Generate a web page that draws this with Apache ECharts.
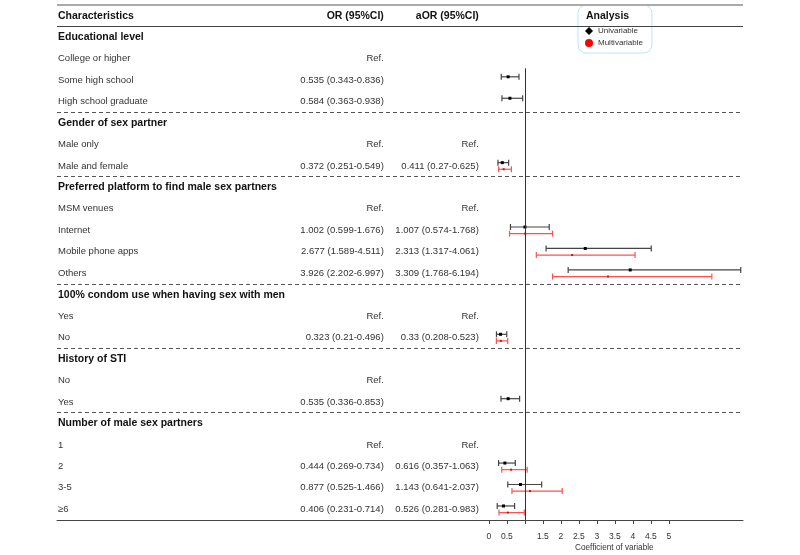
<!DOCTYPE html>
<html>
<head>
<meta charset="utf-8">
<script src="https://cdn.jsdelivr.net/npm/echarts@6/dist/echarts.min.js"></script>
<style>
  html, body { margin: 0; padding: 0; background: #fff; }
  #chart { width: 800px; height: 555px; }
</style>
</head>
<body>
<div id="chart"></div>
<script>
// rows of the table, top to bottom
var rowLabels = [
  'Educational level', 'College or higher', 'Some high school', 'High school graduate',
  'Gender of sex partner', 'Male only', 'Male and female',
  'Preferred platform to find male sex partners', 'MSM venues', 'Internet', 'Mobile phone apps', 'Others',
  '100% condom use when having sex with men', 'Yes', 'No',
  'History of STI', 'No', 'Yes',
  'Number of male sex partners', '1', '2', '3-5', '\u22656'
];
var headerRows = [0, 4, 7, 12, 15, 18];
var orRefRows = [1, 5, 8, 13, 16, 19];
var aorRefRows = [5, 8, 13, 19];
var colTitles = ['Characteristics', 'OR (95%CI)', 'aOR (95%CI)'];

// univariable OR
var orEst  = [null, null, 0.535, 0.584, null, null, 0.372, null, null, 1.002, 2.677, 3.926, null, null, 0.323, null, null, 0.535, null, null, 0.444, 0.877, 0.406];
var orLow  = [null, null, 0.343, 0.363, null, null, 0.251, null, null, 0.599, 1.589, 2.202, null, null, 0.21,  null, null, 0.336, null, null, 0.269, 0.525, 0.231];
var orHigh = [null, null, 0.836, 0.938, null, null, 0.549, null, null, 1.676, 4.511, 6.997, null, null, 0.496, null, null, 0.853, null, null, 0.734, 1.466, 0.714];

// multivariable aOR
var aorEst  = [null, null, null, null, null, null, 0.411, null, null, 1.007, 2.313, 3.309, null, null, 0.33,  null, null, null, null, null, 0.616, 1.143, 0.526];
var aorLow  = [null, null, null, null, null, null, 0.27,  null, null, 0.574, 1.317, 1.768, null, null, 0.208, null, null, null, null, null, 0.357, 0.641, 0.281];
var aorHigh = [null, null, null, null, null, null, 0.625, null, null, 1.768, 4.061, 6.194, null, null, 0.523, null, null, null, null, null, 1.063, 2.037, 0.983];

var tickValues = [0, 0.5, 1.5, 2, 2.5, 3, 3.5, 4, 4.5, 5];
var tickMarks = [0, 0.5, 1, 1.5, 2, 2.5, 3, 3.5, 4, 4.5, 5];
var separators = [3.5, 6.5, 11.5, 14.5, 17.5];

var FONT = 'Liberation Sans, Arial, sans-serif';

function fmt(e, l, h) {
  return e + ' (' + l + '-' + h + ')';
}

function ciData(est, low, high) {
  var out = [];
  for (var i = 0; i < est.length; i++) {
    if (est[i] != null) out.push([est[i], i, low[i], high[i]]);
  }
  return out;
}

function ciRender(color, barColor, dy, dot) {
  return function (params, api) {
    var row = api.value(1);
    var p = api.coord([api.value(0), row]);
    var lo = api.coord([api.value(2), row]);
    var hi = api.coord([api.value(3), row]);
    var y = p[1] + dy;
    var ls = { stroke: barColor, lineWidth: 1.2 };
    return {
      type: 'group',
      children: [
        { type: 'line', shape: { x1: lo[0], y1: y, x2: hi[0], y2: y }, style: ls },
        { type: 'line', shape: { x1: lo[0], y1: y - 3, x2: lo[0], y2: y + 3 }, style: ls },
        { type: 'line', shape: { x1: hi[0], y1: y - 3, x2: hi[0], y2: y + 3 }, style: ls },
        { type: 'rect', shape: { x: p[0] - dot / 2, y: y - dot / 2, width: dot, height: dot }, style: { fill: color } }
      ]
    };
  };
}

// text table rows (row -1 = column titles)
var textRows = [[-12, -1]];
for (var r = 0; r < rowLabels.length; r++) textRows.push([-12, r]);

function textRender(params, api) {
  var row = api.value(1);
  var y = api.coord([0, row])[1];
  var xLabel = api.coord([-12, row])[0] + 1;
  var xOr = api.coord([-2.92, row])[0];
  var xAor = api.coord([-0.28, row])[0];
  var kids = [];
  function t(text, x, align, bold, color) {
    kids.push({
      type: 'text',
      x: x, y: y,
      style: {
        text: text,
        textAlign: align,
        textVerticalAlign: 'middle',
        font: (bold ? 'bold 10.5px ' : '9.5px ') + FONT,
        fill: color
      }
    });
  }
  if (row < 0) {
    t(colTitles[0], xLabel, 'left', true, '#111');
    t(colTitles[1], xOr, 'right', true, '#111');
    t(colTitles[2], xAor, 'right', true, '#111');
    return { type: 'group', children: kids };
  }
  var isHead = headerRows.indexOf(row) >= 0;
  t(rowLabels[row], xLabel, 'left', isHead, isHead ? '#111' : '#333');
  if (orRefRows.indexOf(row) >= 0) t('Ref.', xOr, 'right', false, '#333');
  else if (orEst[row] != null) t(fmt(orEst[row], orLow[row], orHigh[row]), xOr, 'right', false, '#333');
  if (aorRefRows.indexOf(row) >= 0) t('Ref.', xAor, 'right', false, '#333');
  else if (aorEst[row] != null) t(fmt(aorEst[row], aorLow[row], aorHigh[row]), xAor, 'right', false, '#333');
  return { type: 'group', children: kids };
}

var sepLines = [
  { yAxis: -1.5, lineStyle: { color: '#aaaaaa', width: 2, type: 'solid' } },
  { yAxis: -0.5, lineStyle: { color: '#444444', width: 1, type: 'solid' } }
];
separators.forEach(function (s) {
  sepLines.push({ yAxis: s, lineStyle: { color: '#555555', width: 1, type: [4, 3] } });
});
sepLines.push([
  { coord: [1, 1.45], lineStyle: { color: '#333333', width: 1, type: 'solid' } },
  { coord: [1, 22.5] }
]);

var chart = echarts.init(document.getElementById('chart'));

var option = {
  animation: false,
  backgroundColor: '#fff',
  grid: { left: 57, right: 57, top: 5, bottom: 35 },
  xAxis: {
    type: 'value',
    min: -12,
    max: 7.06,
    axisLine: { show: true, onZero: false, lineStyle: { color: '#444', width: 1 } },
    axisTick: { show: true, customValues: tickMarks, length: 4, lineStyle: { color: '#444' } },
    axisLabel: {
      customValues: tickValues,
      formatter: function (v) { return String(v); },
      fontFamily: FONT,
      fontSize: 8.5,
      color: '#333',
      margin: 12
    },
    splitLine: { show: false }
  },
  yAxis: {
    type: 'value',
    inverse: true,
    min: -1.5,
    max: 22.5,
    show: false
  },
  legend: {
    orient: 'vertical',
    left: 578,
    top: 5,
    padding: [22, 9, 6, 7],
    itemWidth: 8,
    itemHeight: 8,
    itemGap: 4,
    backgroundColor: '#fff',
    borderColor: '#bfe3f2',
    borderWidth: 1,
    borderRadius: 8,
    textStyle: { fontFamily: FONT, fontSize: 8, color: '#333' },
    data: [
      { name: 'Univariable', icon: 'diamond', itemStyle: { color: '#000' } },
      { name: 'Multivariable', icon: 'circle', itemStyle: { color: '#ff0000' } }
    ]
  },
  graphic: [
    {
      type: 'text', left: 586, top: 11, z: 100,
      style: { text: 'Analysis', font: 'bold 10.5px ' + FONT, fill: '#111' }
    },
    {
      type: 'text', left: 575, top: 544, z: 100,
      style: { text: 'Coefficient of variable', font: '8.2px ' + FONT, fill: '#333' }
    }
  ],
  series: [
    {
      type: 'custom',
      name: 'table',
      data: textRows,
      encode: { x: 0, y: 1 },
      renderItem: textRender,
      silent: true,
      markLine: {
        silent: true,
        symbol: 'none',
        label: { show: false },
        data: sepLines
      }
    },
    {
      type: 'custom',
      name: 'Univariable',
      itemStyle: { color: '#000' },
      data: ciData(orEst, orLow, orHigh),
      encode: { x: [0, 2, 3], y: 1 },
      renderItem: ciRender('#000', '#444', -3.3, 3)
    },
    {
      type: 'custom',
      name: 'Multivariable',
      itemStyle: { color: '#ff0000' },
      data: ciData(aorEst, aorLow, aorHigh),
      encode: { x: [0, 2, 3], y: 1 },
      renderItem: ciRender('#d01010', '#ff5050', 3.3, 2)
    }
  ]
};

chart.setOption(option);
</script>
</body>
</html>
